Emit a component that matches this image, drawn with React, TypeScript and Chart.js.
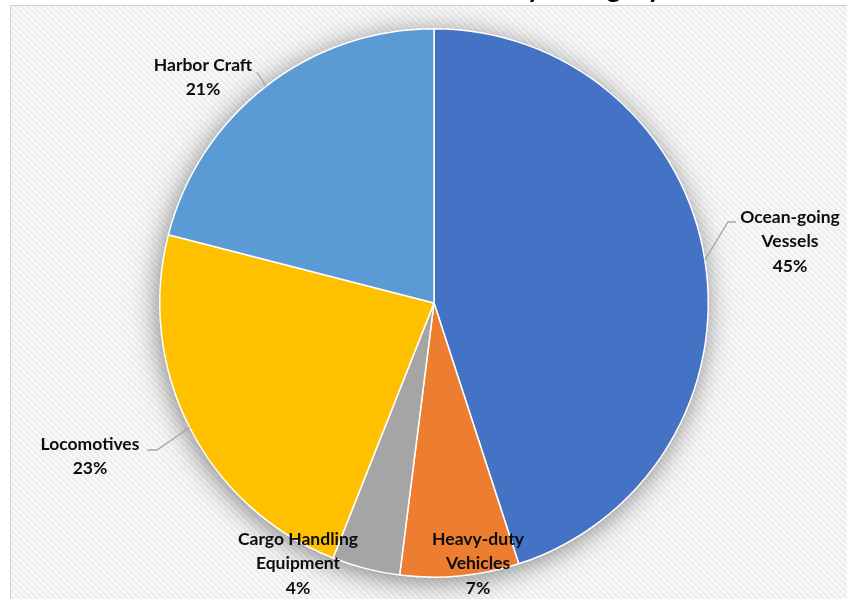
import React, { useEffect, useRef } from "react";
import { Chart, registerables } from "chart.js";
Chart.register(...registerables);

const categories = ["Ocean-going Vessels", "Heavy-duty Vehicles", "Cargo Handling Equipment", "Locomotives", "Harbor Craft"];
const shares = [45, 7, 4, 23, 21];
const labelLines = [["Ocean-going", "Vessels"], ["Heavy-duty", "Vehicles"], ["Cargo Handling", "Equipment"], ["Locomotives"], ["Harbor Craft"]];
const colors = ["#4472C4", "#ED7D31", "#A5A5A5", "#FFC000", "#5B9BD5"];
const titleText = "Emissions by Category";

// label layout (px relative to pie centre) – text positions only
const labelPos = [[356, -86], [44, 236], [-136, 236], [-344, 141], [-231, -238]];
const leaderPts: (number[][] | null)[] = [[[294, -81], [302, -81]], null, null, [[-277, 147], [-287, 147]], [[-177, -231]]];

const W = 847;
const H = 599;
const FONT = "bold 17.5px Lato, 'Open Sans', sans-serif";

function makePattern(ctx: CanvasRenderingContext2D) {
  const s = 6;
  const c = document.createElement("canvas");
  c.width = s; c.height = s;
  const p = c.getContext("2d")!;
  p.fillStyle = "#EDEDED";
  p.fillRect(0, 0, s, s);
  p.strokeStyle = "#FAFAFA";
  p.lineWidth = 2;
  p.beginPath();
  p.moveTo(0, 0); p.lineTo(s, s);
  p.moveTo(-2, s - 2); p.lineTo(2, s + 2);
  p.moveTo(s - 2, -2); p.lineTo(s + 2, 2);
  p.stroke();
  return ctx.createPattern(c, "repeat");
}

const decorPlugin = {
  id: "decor",
  beforeDraw(chart: any) {
    const ctx: CanvasRenderingContext2D = chart.ctx;
    ctx.save();
    ctx.fillStyle = "#FFFFFF";
    ctx.fillRect(0, 0, W, H);
    const pat = makePattern(ctx);
    ctx.fillStyle = pat || "#F0F0F0";
    ctx.fillRect(10, 5, W - 10, H - 5);
    ctx.strokeStyle = "#D0D0D0";
    ctx.lineWidth = 1;
    ctx.strokeRect(10.5, 5.5, W + 10, H + 10);
    // title (cut off by the top edge)
    ctx.fillStyle = "#000";
    ctx.font = "bold 28px Lato, sans-serif";
    ctx.textAlign = "right";
    ctx.textBaseline = "alphabetic";
    ctx.fillText(titleText, 662, -3);
    ctx.restore();
  },
  beforeDatasetsDraw(chart: any) {
    const ctx: CanvasRenderingContext2D = chart.ctx;
    const arc = chart.getDatasetMeta(0).data[0];
    if (!arc) return;
    const { x, y, outerRadius } = arc.getProps(["x", "y", "outerRadius"], true);
    ctx.save();
    ctx.shadowColor = "rgba(0,0,0,0.5)";
    ctx.shadowBlur = 28;
    ctx.shadowOffsetX = -2;
    ctx.shadowOffsetY = 4;
    ctx.beginPath();
    ctx.arc(x, y, outerRadius - 1, 0, Math.PI * 2);
    ctx.fillStyle = "#FFFFFF";
    ctx.fill();
    ctx.restore();
  },
  afterDatasetsDraw(chart: any) {
    const ctx: CanvasRenderingContext2D = chart.ctx;
    const meta = chart.getDatasetMeta(0);
    const total = shares.reduce((a, b) => a + b, 0);
    ctx.save();
    meta.data.forEach((el: any, i: number) => {
      const { x, y, outerRadius, startAngle, endAngle } = el.getProps(["x", "y", "outerRadius", "startAngle", "endAngle"], true);
      const mid = (startAngle + endAngle) / 2;
      const pts = leaderPts[i];
      if (pts) {
        ctx.strokeStyle = "#A6A6A6";
        ctx.lineWidth = 1.3;
        ctx.beginPath();
        ctx.moveTo(x + Math.cos(mid) * outerRadius, y + Math.sin(mid) * outerRadius);
        pts.forEach((p) => ctx.lineTo(x + p[0], y + p[1]));
        ctx.stroke();
      }
      const lines = [...labelLines[i], Math.round((shares[i] / total) * 100) + "%"];
      ctx.fillStyle = "#0D0D0D";
      ctx.font = FONT;
      ctx.textAlign = "center";
      ctx.textBaseline = "middle";
      const [dx, dy] = labelPos[i];
      lines.forEach((t, k) => ctx.fillText(t, x + dx, y + dy + k * 24.5));
    });
    ctx.restore();
  },
};

export default function App() {
  const ref = useRef<HTMLCanvasElement>(null);
  useEffect(() => {
    if (!ref.current) return;
    const chart = new Chart(ref.current, {
      type: "pie",
      data: {
        labels: categories,
        datasets: [
          {
            data: shares,
            backgroundColor: colors,
            borderColor: "#FFFFFF",
            borderWidth: 1.5,
          },
        ],
      },
      options: {
        responsive: false,
        maintainAspectRatio: false,
        devicePixelRatio: 1,
        animation: false,
        layout: { padding: { top: 28, bottom: 21, left: 159, right: 138 } },
        plugins: { legend: { display: false }, tooltip: { enabled: false }, title: { display: false } },
      },
      plugins: [decorPlugin],
    });
    return () => chart.destroy();
  }, []);
  return (
    <div style={{ position: "fixed", left: 0, top: 0, width: W, height: H, overflow: "hidden", background: "#fff" }}>
      <canvas ref={ref} width={W} height={H} style={{ display: "block" }} />
    </div>
  );
}
